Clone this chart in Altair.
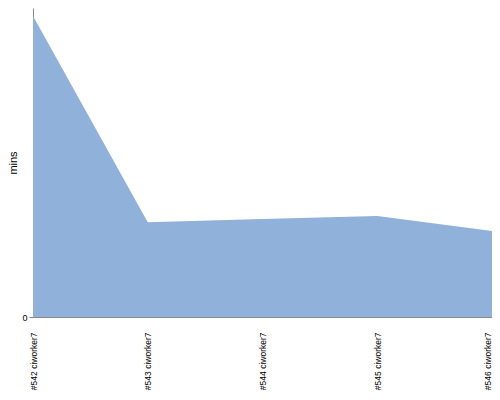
import altair as alt
import pandas as pd

builds = ["#542 ciworker7", "#543 ciworker7", "#544 ciworker7", "#545 ciworker7", "#546 ciworker7"]
mins = [97.4, 30.7, 31.7, 32.7, 27.8]

df = pd.DataFrame({"build": builds, "mins": mins})

last = builds[-1]

chart = alt.Chart(df).mark_area(color="#8FB1DA", opacity=1, interpolate="linear").encode(
    x=alt.X("build:N", sort=builds, title=None,
            scale=alt.Scale(type="point", padding=0),
            axis=alt.Axis(labelAngle=-90, labelAlign="right", labelBaseline="middle",
                          labelFontSize=8.5, labelFont="Liberation Sans", labelColor="#000",
                          labelOffset={"condition": {"test": f"datum.value == '{last}'", "value": -5}, "value": 0},
                          ticks=False, labelPadding=15, domain=True, domainColor="#888",
                          grid=False)),
    y=alt.Y("mins:Q", title="mins", scale=alt.Scale(domain=[0, 100]),
            axis=alt.Axis(values=[0], grid=False, domainColor="#888", tickColor="#888",
                          tickSize=4, labelFontSize=9, labelFont="Liberation Sans",
                          labelColor="#000", titleFont="Liberation Sans", titleFontSize=11,
                          titleFontWeight="normal", titleColor="#000", titlePadding=3)),
).properties(
    width=459, height=309,
    autosize=alt.AutoSizeParams(type="none"),
    padding={"left": 25, "top": 0, "right": 0, "bottom": 75},
).configure_view(stroke=None)

chart.save("out.html", embed_options={"renderer": "svg", "actions": False})
